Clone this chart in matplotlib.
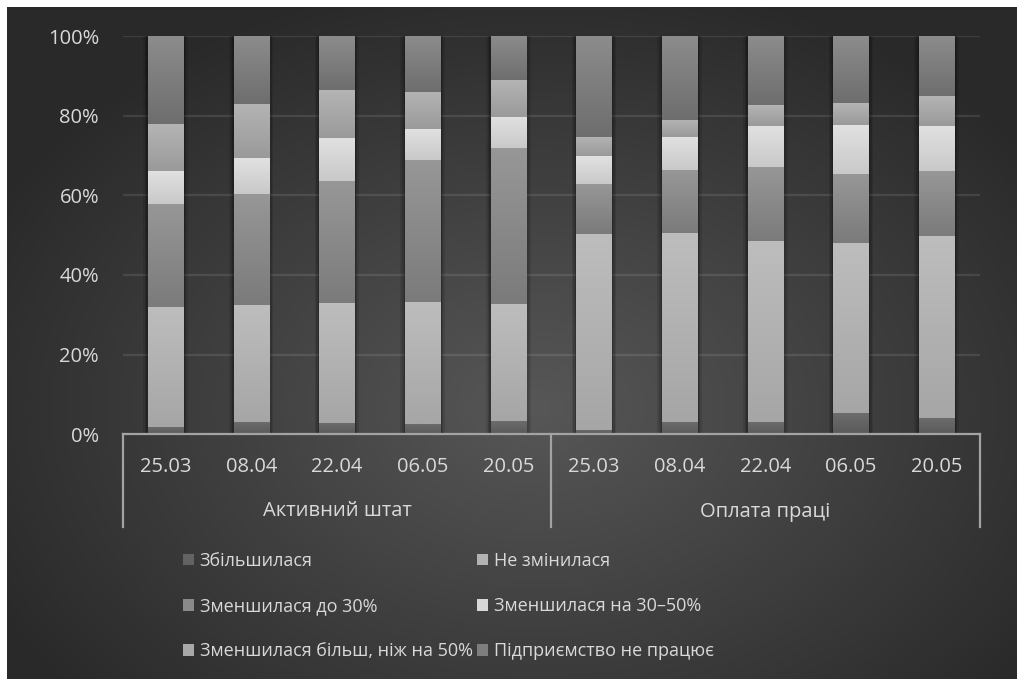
import numpy as np
import matplotlib
matplotlib.use("Agg")
import matplotlib.pyplot as plt
from matplotlib.patches import Rectangle
from matplotlib.colors import to_rgb

# ---- data -------------------------------------------------------------
dates = ["25.03", "08.04", "22.04", "06.05", "20.05"]
groups = ["Активний штат", "Оплата праці"]
series_names = [
    "Збільшилася",
    "Не змінилася",
    "Зменшилася до 30%",
    "Зменшилася на 30–50%",
    "Зменшилася більш, ніж на 50%",
    "Підприємство не працює",
]

increased   = [1.8, 3.1, 2.9, 2.6, 3.4, 1.1, 3.1, 3.1, 5.4, 4.1]
unchanged   = [30.1, 29.4, 30.1, 30.6, 29.4, 49.2, 47.4, 45.4, 42.7, 45.7]
down_30     = [25.9, 27.9, 30.6, 35.7, 39.2, 12.6, 15.8, 18.6, 17.3, 16.3]
down_30_50  = [8.3, 9.0, 10.8, 7.8, 7.8, 7.0, 8.3, 10.3, 12.3, 11.3]
down_50     = [11.8, 13.6, 12.0, 9.3, 9.3, 4.8, 4.3, 5.3, 5.5, 7.5]
not_working = [22.1, 17.1, 13.6, 14.1, 11.1, 25.4, 21.1, 17.3, 16.8, 15.1]

series = [increased, unchanged, down_30, down_30_50, down_50, not_working]

# top / bottom shades of each segment's vertical gradient
shades = [
    ("#6d6d6d", "#5a5a5a"),
    ("#bdbdbd", "#a6a6a6"),
    ("#979797", "#7b7b7b"),
    ("#e1e1e1", "#c9c9c9"),
    ("#b4b4b4", "#9a9a9a"),
    ("#8c8c8c", "#6e6e6e"),
]
legend_colors = ["#636363", "#b2b2b2", "#8a8a8a", "#d8d8d8", "#a8a8a8", "#7e7e7e"]

FONT = "Open Sans"
TXT = "#d9d9d9"
plt.rcParams["font.family"] = [FONT, "DejaVu Sans"]

W, H = 1017, 679
fig = plt.figure(figsize=(W / 100, H / 100), dpi=100, facecolor="white")

# ---- radial gradient background ---------------------------------------
bg = fig.add_axes([7 / W, 0, 1 - 7 / W, 1 - 7 / H])
bg.set_axis_off()
yy, xx = np.mgrid[0:H - 7, 0:W - 7]
cx, cy, rx, ry = 530, 400, 620, 440
d = np.clip(np.sqrt(((xx - cx) / rx) ** 2 + ((yy - cy) / ry) ** 2), 0, 1)
c_in, c_out = 0x57 / 255, 0x29 / 255
g = c_in + (c_out - c_in) * d
bg.imshow(np.dstack([g, g, g]), aspect="auto", interpolation="bilinear")

# ---- main axes ----------------------------------------------------------
x0, x1 = 122.7, 979.5
y_top, y_bot = 36.0, 434.3
ax = fig.add_axes([x0 / W, 1 - y_bot / H, (x1 - x0) / W, (y_bot - y_top) / H])
ax.patch.set_alpha(0)

n = len(increased)
x = np.arange(n)
vals = np.array(series, dtype=float)
shares = vals / vals.sum(axis=0)
bottoms = np.vstack([np.zeros(n), np.cumsum(shares, axis=0)[:-1]])

ax.set_xlim(-0.5, n - 0.5)
ax.set_ylim(0, 1)

for yv in [0.2, 0.4, 0.6, 0.8, 1.0]:
    ax.axhline(yv, color="white", alpha=0.10, lw=1.6, zorder=1)

bw = 0.41
# soft shadow around each bar
for k, a in [(0.11, 0.10), (0.07, 0.14), (0.035, 0.18)]:
    ax.bar(x, np.ones(n), width=bw + k, color="black", alpha=a, lw=0, zorder=2)

for i, (name, vals_i) in enumerate(zip(series_names, shares)):
    top_c, bot_c = np.array(to_rgb(shades[i][0])), np.array(to_rgb(shades[i][1]))
    bars = ax.bar(x, vals_i, bottom=bottoms[i], width=bw, color=legend_colors[i],
                  lw=0, zorder=3, label=name)
    t = np.linspace(0, 1, 64)[:, None]
    grad = (top_c[None, :] * (1 - t) + bot_c[None, :] * t)[:, None, :]
    for p in bars.patches:
        bx, by, bwid, bh = p.get_x(), p.get_y(), p.get_width(), p.get_height()
        im = ax.imshow(grad, extent=[bx, bx + bwid, by, by + bh], aspect="auto",
                       origin="upper", interpolation="bilinear", zorder=4)
        im.set_clip_path(p)

ax.set_xlim(-0.5, n - 0.5)
ax.set_ylim(0, 1)

# ---- axes styling -------------------------------------------------------
for s in ax.spines.values():
    s.set_visible(False)
ax.set_yticks([0, 0.2, 0.4, 0.6, 0.8, 1.0])
ax.set_yticklabels(["0%", "20%", "40%", "60%", "80%", "100%"])
ax.tick_params(axis="y", length=0, pad=17, labelsize=14.5, labelcolor=TXT)
ax.set_xticks([])

line_c = "#a3a3a3"
yb = -(526.7 - y_bot) / (y_bot - y_top)
ax.plot([-0.5, n - 0.5], [0, 0], color=line_c, lw=1.6, clip_on=False, zorder=5)
for xv in [-0.5, 4.5, 9.5]:
    ax.plot([xv, xv], [0, yb], color=line_c, lw=1.6, clip_on=False, zorder=5)

y_tick = -(466.5 - y_bot) / (y_bot - y_top)
y_grp = -(511.5 - y_bot) / (y_bot - y_top)
for i in range(n):
    ax.text(x[i], y_tick, dates[i % len(dates)], ha="center", va="center",
            fontsize=14.5, color=TXT)
for gi, gname in enumerate(groups):
    ax.text(gi * 5 + 2, y_grp, gname, ha="center", va="center",
            fontsize=14.5, color=TXT)

# ---- legend -------------------------------------------------------------
handles = [Rectangle((0, 0), 1, 1, facecolor=c, lw=0) for c in legend_colors]
order = [0, 2, 4, 1, 3, 5]
fig.legend([handles[k] for k in order], [series_names[k] for k in order],
           ncol=2, loc="upper left", bbox_to_anchor=(183 / W, 1 - 552 / H),
           frameon=False, fontsize=13, labelcolor=TXT, handlelength=0.62,
           handleheight=0.62, handletextpad=0.3, columnspacing=0.25,
           labelspacing=1.5, borderpad=0, borderaxespad=0)

fig.savefig("out.png", dpi=100, facecolor=fig.get_facecolor())
